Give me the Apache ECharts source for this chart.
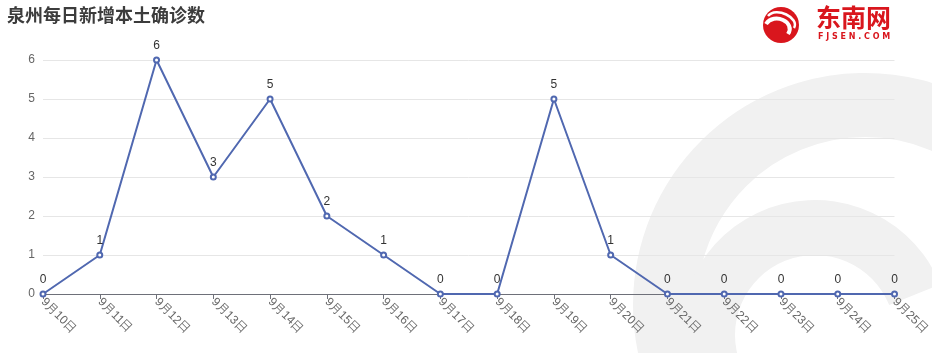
<!DOCTYPE html>
<html>
<head>
<meta charset="utf-8">
<style>
  html, body { margin: 0; padding: 0; background: #fff; }
  #chart { width: 932px; height: 353px; }
</style>
<script src="https://cdn.jsdelivr.net/npm/echarts@6/dist/echarts.min.js"></script>
</head>
<body>
<div id="chart"></div>
<script>
// 日期
var days = ['9月10日', '9月11日', '9月12日', '9月13日', '9月14日', '9月15日', '9月16日', '9月17日',
  '9月18日', '9月19日', '9月20日', '9月21日', '9月22日', '9月23日', '9月24日', '9月25日']
// 新增本土确诊
var cases = [0, 1, 6, 3, 5, 2, 1, 0, 0, 5, 1, 0, 0, 0, 0, 0]
var yTicks = [0, 6, 1] // min, max, interval

var chart = echarts.init(document.getElementById('chart'))
var wm = '#f1f1f1'
var red = '#d9161d'

chart.setOption({
  animation: false,
  title: {
    text: '泉州每日新增本土确诊数',
    left: 2,
    top: 1,
    textStyle: { fontSize: 18, fontWeight: 'bold', color: '#3c3c3c', fontFamily: 'Noto Sans CJK SC' }
  },
  graphic: [
    // 背景水印
    { type: 'sector', z: -10, silent: true,
      shape: { cx: 865, cy: 305, r0: 168, r: 232, startAngle: 2.85, endAngle: 5.5 },
      style: { fill: wm } },
    { type: 'sector', z: -10, silent: true,
      shape: { cx: 815, cy: 335, r0: 80, r: 135, startAngle: 2.7, endAngle: 5.9 },
      style: { fill: wm } },
    // logo
    { type: 'circle', shape: { cx: 781, cy: 25, r: 18 }, style: { fill: red } },
    { type: 'bezierCurve', shape: { x1: 766, y1: 24, cpx1: 774, cpy1: 12, x2: 788, y2: 34, cpx2: 796, cpy2: 22 },
      style: { stroke: '#fff', lineWidth: 4, fill: null } },
    { type: 'bezierCurve', shape: { x1: 768, y1: 16, cpx1: 776, cpy1: 6, x2: 794, y2: 28, cpx2: 800, cpy2: 18 },
      style: { stroke: '#fff', lineWidth: 2.5, fill: null } },
    { type: 'text', left: 816, top: 5,
      style: { text: '东南网', fill: red, font: 'bold 25px "Noto Sans CJK SC"' } },
    { type: 'text', left: 818, top: 33,
      style: { text: 'F J S E N . C O M', fill: red, font: 'bold 8px "DejaVu Sans"' } }
  ],
  grid: { left: 43, right: 37, top: 60, bottom: 59 },
  xAxis: {
    type: 'category',
    boundaryGap: false,
    data: days,
    axisLine: { lineStyle: { color: '#6e7079' } },
    axisTick: { show: true },
    axisLabel: { rotate: -45, color: '#666', fontSize: 12, margin: 6, interval: 0 }
  },
  yAxis: {
    type: 'value',
    min: yTicks[0],
    max: yTicks[1],
    interval: yTicks[2],
    axisLabel: { color: '#666', fontSize: 12 },
    splitLine: { lineStyle: { color: '#e6e6e6' } }
  },
  series: [{
    type: 'line',
    data: cases,
    symbol: 'emptyCircle',
    symbolSize: 5,
    lineStyle: { color: '#5068b0', width: 2 },
    itemStyle: { color: '#5068b0' },
    label: { show: true, position: 'top', color: '#333', fontSize: 12 }
  }]
})
</script>
</body>
</html>
